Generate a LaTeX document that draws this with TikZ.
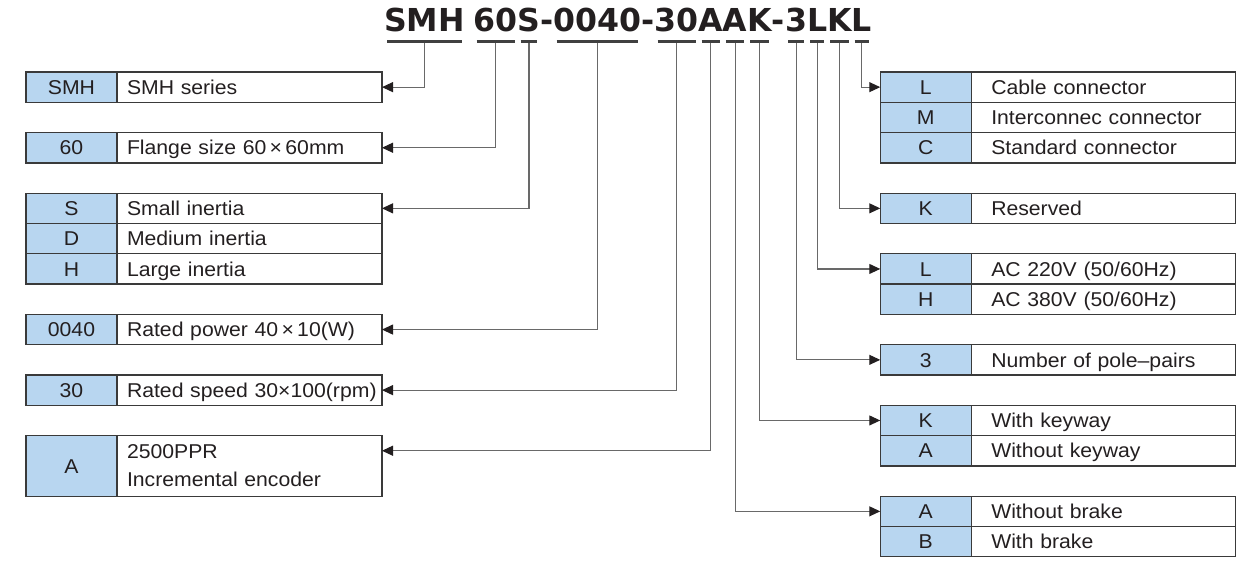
\documentclass[tikz,border=0pt]{standalone}
\usepackage{fontspec}
\usepackage{xcolor}
\usepackage{tikz}
\usetikzlibrary{positioning,arrows.meta}
\newfontfamily\lblfont[FakeStretch=1.06]{Liberation Sans}
\newfontfamily\ttlfont{DejaVu Sans}
\definecolor{codeblue}{RGB}{184,214,240}
\definecolor{boxgray}{RGB}{58,58,58}
\definecolor{leadgray}{RGB}{105,105,105}
\definecolor{ulgray}{RGB}{64,64,64}
\definecolor{ink}{RGB}{35,31,32}

\begin{document}
\begin{tikzpicture}[x=0.5pt,y=-0.5pt,line join=miter,
    ttl/.style={inner sep=0pt,outer sep=0pt,text=ink,anchor=base west,font=\ttlfont\bfseries\fontsize{15.8}{18}\selectfont},
    uline/.style={draw=ulgray,line width=1.5pt},
    box/.style={draw=boxgray,line width=0.65pt,inner ysep=0pt,outer sep=0pt,text=ink,font=\lblfont\fontsize{10}{14}\selectfont},
    one/.style={text height=7.2pt,text depth=0pt},
    code/.style={box,one,fill=codeblue,minimum width=45.5pt,minimum height=15.15pt,inner xsep=0pt},
    ldesc/.style={box,one,minimum height=15.15pt,text width=122.5pt,inner xsep=5pt,align=left},
    rdesc/.style={box,one,minimum height=15.15pt,text width=112pt,inner xsep=10pt,align=left},
    lead/.style={draw=leadgray,line width=0.55pt,-{Triangle[length=5.5pt,width=5pt,color=ink]}}]
    \useasboundingbox (0,0) rectangle (1239,562);

    \node[ttl] (tsmh) at (384,32) {SMH};
    \node[ttl] (t60) at ([xshift=4.5pt]tsmh.base east) {60};
    \node[ttl] (ts) at (t60.base east) {S};
    \node[ttl] (th1) at (ts.base east) {-};
    \node[ttl] (t0040) at (th1.base east) {0040};
    \node[ttl] (th2) at (t0040.base east) {-};
    \node[ttl] (t30) at (th2.base east) {30};
    \node[ttl] (ta1) at (t30.base east) {A};
    \node[ttl] (ta2) at (ta1.base east) {A};
    \node[ttl] (tk1) at (ta2.base east) {K};
    \node[ttl] (th3) at (tk1.base east) {-};
    \node[ttl] (t3) at (th3.base east) {3};
    \node[ttl] (tl1) at (t3.base east) {L};
    \node[ttl] (tk2) at (tl1.base east) {K};
    \node[ttl] (tl2) at (tk2.base east) {L};

    \node[code] (c-smh) at (71.5,87.15) {SMH};
    \node[ldesc,right=0pt of c-smh] (d-smh) {SMH series};
    \node[code] (c-60) at (71.5,147.75) {60};
    \node[ldesc,right=0pt of c-60] (d-60) {Flange size 60\,×\,60mm};
    \node[code] (c-s) at (71.5,208.35) {S};
    \node[ldesc,right=0pt of c-s] (d-s) {Small inertia};
    \node[code,below=0pt of c-s] (c-d) {D};
    \node[ldesc,right=0pt of c-d] (d-d) {Medium inertia};
    \node[code,below=0pt of c-d] (c-h) {H};
    \node[ldesc,right=0pt of c-h] (d-h) {Large inertia};
    \node[code] (c-0040) at (71.5,329.55) {0040};
    \node[ldesc,right=0pt of c-0040] (d-0040) {Rated power 40\,×\,10(W)};
    \node[code] (c-30) at (71.5,390.15) {30};
    \node[ldesc,right=0pt of c-30] (d-30) {\mbox{Rated speed 30×100(rpm)}};
    \node[code,minimum height=30.3pt] (c-enc) at (71.5,465.9) {A};
    \node[box,minimum height=30.3pt,text width=122.5pt,inner xsep=5pt,align=left,right=0pt of c-enc] (d-enc) {2500PPR\\Incremental encoder};

    \node[code] (c-cab) at (925.75,87.15) {L};
    \node[rdesc,right=0pt of c-cab] (d-cab) {Cable connector};
    \node[code,below=0pt of c-cab] (c-int) {M};
    \node[rdesc,right=0pt of c-int] (d-int) {Interconnec connector};
    \node[code,below=0pt of c-int] (c-std) {C};
    \node[rdesc,right=0pt of c-std] (d-std) {Standard connector};
    \node[code] (c-res) at (925.75,208.35) {K};
    \node[rdesc,right=0pt of c-res] (d-res) {Reserved};
    \node[code] (c-220) at (925.75,268.95) {L};
    \node[rdesc,right=0pt of c-220] (d-220) {AC 220V (50/60Hz)};
    \node[code,below=0pt of c-220] (c-380) {H};
    \node[rdesc,right=0pt of c-380] (d-380) {AC 380V (50/60Hz)};
    \node[code] (c-pole) at (925.75,359.85) {3};
    \node[rdesc,right=0pt of c-pole] (d-pole) {Number of pole–pairs};
    \node[code] (c-key) at (925.75,420.45) {K};
    \node[rdesc,right=0pt of c-key] (d-key) {With keyway};
    \node[code,below=0pt of c-key] (c-nokey) {A};
    \node[rdesc,right=0pt of c-nokey] (d-nokey) {Without keyway};
    \node[code] (c-nobrk) at (925.75,511.35) {A};
    \node[rdesc,right=0pt of c-nobrk] (d-nobrk) {Without brake};
    \node[code,below=0pt of c-nobrk] (c-brk) {B};
    \node[rdesc,right=0pt of c-brk] (d-brk) {With brake};

    \draw[lead] ([yshift=-4.5pt]tsmh.base) |- (d-smh.east);
    \draw[lead] ([yshift=-4.5pt]t60.base) |- (d-60.east);
    \draw[lead] ([yshift=-4.5pt]ts.base) |- (d-s.east);
    \draw[lead] ([yshift=-4.5pt]t0040.base) |- (d-0040.east);
    \draw[lead] ([yshift=-4.5pt]t30.base) |- (d-30.east);
    \draw[lead] ([yshift=-4.5pt]ta1.base) |- ([yshift=-7.575pt]d-enc.north east);
    \draw[lead] ([yshift=-4.5pt]ta2.base) |- (c-nobrk.west);
    \draw[lead] ([yshift=-4.5pt]tk1.base) |- (c-key.west);
    \draw[lead] ([yshift=-4.5pt]t3.base) |- (c-pole.west);
    \draw[lead] ([yshift=-4.5pt]tl1.base) |- (c-220.west);
    \draw[lead] ([yshift=-4.5pt]tk2.base) |- (c-res.west);
    \draw[lead] ([yshift=-4.5pt]tl2.base) |- (c-cab.west);

    \foreach \p in {tsmh,t60,ts,t0040,t30,ta1,ta2,tk1,t3,tl1,tk2,tl2}{\draw[uline] ([xshift=1.5pt,yshift=-4.5pt]\p.base west) -- ([xshift=-1.5pt,yshift=-4.5pt]\p.base east);}
  \end{tikzpicture}
\end{document}
